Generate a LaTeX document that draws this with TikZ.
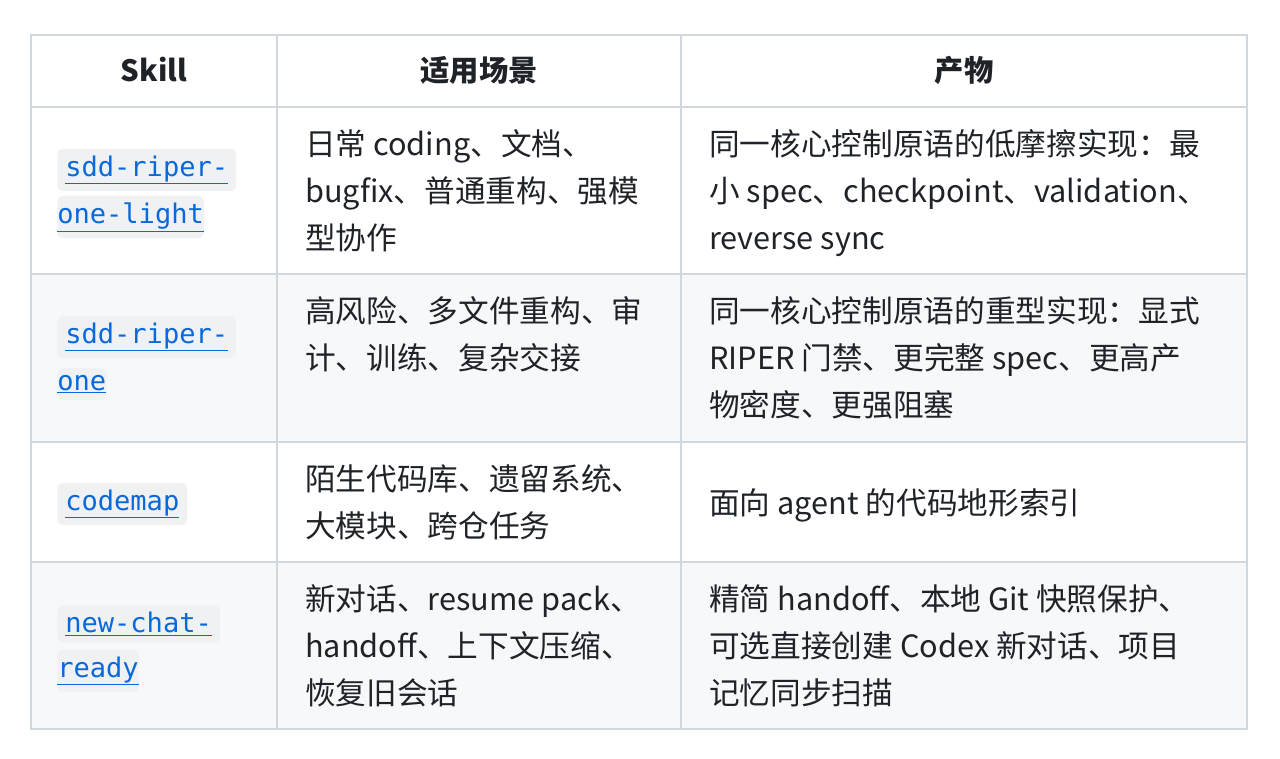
\documentclass[tikz,border=0pt]{standalone}
\usepackage{fontspec}
\setmainfont{Noto Sans CJK SC}
\setmonofont{DejaVu Sans Mono}
\definecolor{rule}{HTML}{D0D7DE}
\definecolor{stripe}{HTML}{F6F8FA}
\definecolor{pill}{HTML}{EFF1F3}
\definecolor{link}{HTML}{0969DA}
\definecolor{ink}{HTML}{1F2328}
\tikzset{
  cell/.style={anchor=base west, inner sep=0pt, text=ink, font=\fontsize{23}{26}\selectfont},
  head/.style={anchor=base, inner sep=0pt, text=ink, font=\fontsize{22}{26}\selectfont\bfseries},
  code/.style={anchor=west, fill=pill, rounded corners=4pt, inner xsep=#1, inner ysep=5pt,
    text=link, font=\fontsize{20.3}{22}\ttfamily},
  code/.default=0pt
}
\newcommand{\lnk}[1]{\underline{#1}}
\begin{document}
\begin{tikzpicture}[x=0.75pt, y=-0.75pt]
  \useasboundingbox (0,0) rectangle (1280,758);

  % Stripes
  \fill[stripe] (31,274) rectangle (1247,442);
  \fill[stripe] (31,562) rectangle (1247,729);

  % Grid
  \draw[rule, line width=1.2pt] (31,35) rectangle (1247,729);
  \foreach \y in {107,274,442,562} \draw[rule, line width=1.2pt] (31,\y) -- (1247,\y);
  \foreach \x in {277,681} \draw[rule, line width=1.2pt] (\x,35) -- (\x,729);

  % Header
  \node[head] (h1) at (154,81) {Skill};
  \node[head] (h2) at (479,81) {适用场景};
  \node[head] (h3) at (964,81) {产物};

  % Skill names
  \node[code=6pt] (s1a) at (57,170) {\lnk{sdd-riper-}};
  \node[code] (s1b) at (57,217) {\lnk{one-light}\hspace{6pt}};
  \node[code=6pt] (s2a) at (57,337) {\lnk{sdd-riper-}};
  \node[code] (s2b) at (57,384) {\lnk{one}\hspace{6pt}};
  \node[code=6pt] (s3) at (57,504) {\lnk{codemap}};
  \node[code=6pt] (s4a) at (57,624) {\lnk{new-chat-}};
  \node[code] (s4b) at (57,671) {\lnk{ready}\hspace{6pt}};

  % Scenarios
  \node[cell] (c1a) at (305,155) {日常 coding、文档、};
  \node[cell] (c1b) at (305,202) {bugfix、普通重构、强模};
  \node[cell] (c1c) at (305,249) {型协作};
  \node[cell] (c2a) at (305,322) {高风险、多文件重构、审};
  \node[cell] (c2b) at (305,369) {计、训练、复杂交接};
  \node[cell] (c3a) at (305,490) {陌生代码库、遗留系统、};
  \node[cell] (c3b) at (305,537) {大模块、跨仓任务};
  \node[cell] (c4a) at (305,610) {新对话、resume pack、};
  \node[cell] (c4b) at (305,657) {handoff、上下文压缩、};
  \node[cell] (c4c) at (305,704) {恢复旧会话};

  % Outputs
  \node[cell] (o1a) at (709,155) {同一核心控制原语的低摩擦实现：最};
  \node[cell] (o1b) at (709,202) {小 spec、checkpoint、validation、};
  \node[cell] (o1c) at (709,249) {reverse sync};
  \node[cell] (o2a) at (709,322) {同一核心控制原语的重型实现：显式};
  \node[cell] (o2b) at (709,369) {RIPER 门禁、更完整 spec、更高产};
  \node[cell] (o2c) at (709,416) {物密度、更强阻塞};
  \node[cell] (o3) at (709,514) {面向 agent 的代码地形索引};
  \node[cell] (o4a) at (709,610) {精简 handoff、本地 Git 快照保护、};
  \node[cell] (o4b) at (709,657) {可选直接创建 Codex 新对话、项目};
  \node[cell] (o4c) at (709,704) {记忆同步扫描};
\end{tikzpicture}
\end{document}
